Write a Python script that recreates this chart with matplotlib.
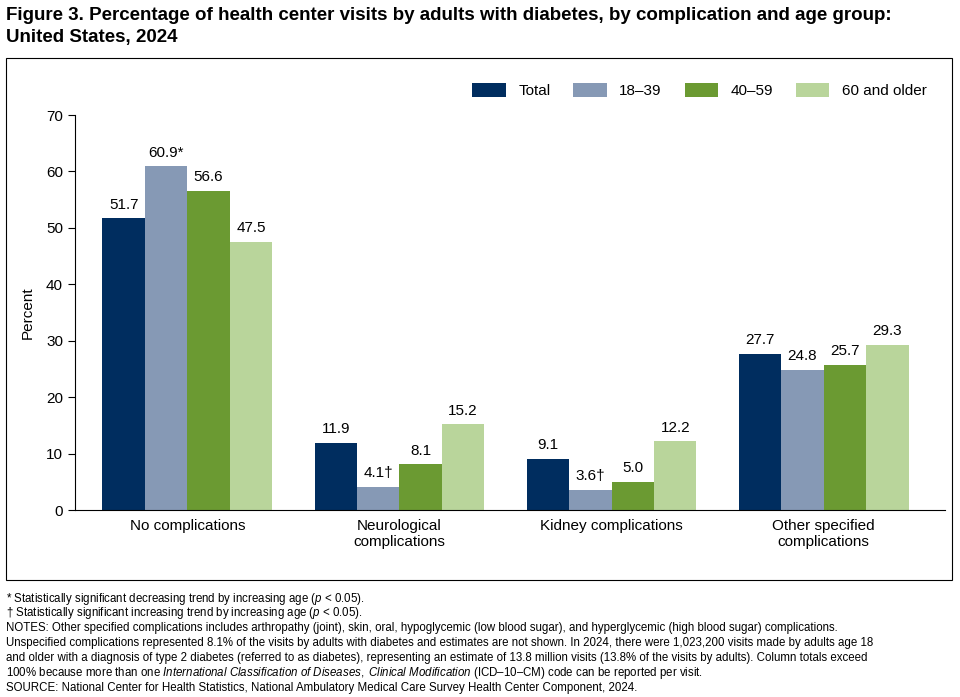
import matplotlib.pyplot as plt
import numpy as np
from matplotlib.patches import Rectangle

categories = ["No complications", "Neurological\ncomplications",
              "Kidney complications", "Other specified\ncomplications"]
series = ["Total", "18\u201339", "40\u201359", "60 and older"]
values = [
    [51.7, 11.9, 9.1, 27.7],
    [60.9, 4.1, 3.6, 24.8],
    [56.6, 8.1, 5.0, 25.7],
    [47.5, 15.2, 12.2, 29.3],
]
labels = [
    ["51.7", "11.9", "9.1", "27.7"],
    ["60.9*", "4.1\u2020", "3.6\u2020", "24.8"],
    ["56.6", "8.1", "5.0", "25.7"],
    ["47.5", "15.2", "12.2", "29.3"],
]
colors = ["#002d5f", "#8699b5", "#6b9a32", "#b9d59b"]

plt.rcParams["font.family"] = ["Liberation Sans", "DejaVu Sans"]
plt.rcParams["mathtext.fontset"] = "custom"
plt.rcParams["mathtext.rm"] = "Liberation Sans"
plt.rcParams["mathtext.it"] = "Liberation Sans:italic"
fig = plt.figure(figsize=(9.6, 6.97), dpi=100)
ax = fig.add_axes([0.078, 0.268, 0.906, 0.567])

x = np.arange(len(categories))
w = 0.2
for i, (vals, labs) in enumerate(zip(values, labels)):
    pos = x + (i - 1.5) * w
    ax.bar(pos, vals, width=w, color=colors[i], label=series[i])
    for p, v, t in zip(pos, vals, labs):
        ax.text(p, v + 1.2, t, ha="center", va="bottom", fontsize=11)

ax.set_xlim(-0.53, 3.57)
ax.set_ylim(0, 70)
ax.set_yticks(range(0, 71, 10))
ax.set_xticks(x)
ax.set_xticklabels(categories, fontsize=11)
ax.tick_params(axis="x", length=0, pad=6)
ax.tick_params(axis="y", labelsize=11, direction="out", length=5)
ax.set_ylabel("Percent", fontsize=11, labelpad=8)
for s in ["top", "right"]:
    ax.spines[s].set_visible(False)
ax.legend(loc="upper right", bbox_to_anchor=(0.995, 1.115), ncol=4, frameon=False,
          fontsize=11, handlelength=2.2, handleheight=1.0, columnspacing=1.5)

fig.patches.append(Rectangle((0.006, 0.168), 0.986, 0.749, transform=fig.transFigure,
                             fill=False, edgecolor="black", linewidth=0.8))

fig.text(0.006, 0.99, "Figure 3. Percentage of health center visits by adults with diabetes, by complication and age group:\nUnited States, 2024",
         ha="left", va="top", fontsize=13.5, fontweight="bold", linespacing=1.35)

notes = [
    r"* Statistically significant decreasing trend by increasing age ($\it{p}$ < 0.05).",
    "\u2020 Statistically significant increasing trend by increasing age ($\\it{p}$ < 0.05).",
    "NOTES: Other specified complications includes arthropathy (joint), skin, oral, hypoglycemic (low blood sugar), and hyperglycemic (high blood sugar) complications.",
    "Unspecified complications represented 8.1% of the visits by adults with diabetes and estimates are not shown. In 2024, there were 1,023,200 visits made by adults age 18",
    "and older with a diagnosis of type 2 diabetes (referred to as diabetes), representing an estimate of 13.8 million visits (13.8% of the visits by adults). Column totals exceed",
    "100% because more than one $\\it{International\\ Classification\\ of\\ Diseases,\\ Clinical\\ Modification}$ (ICD\u201310\u2013CM) code can be reported per visit.",
    "SOURCE: National Center for Health Statistics, National Ambulatory Medical Care Survey Health Center Component, 2024.",
]
y0 = 0.137
for n in notes:
    fig.text(0.006, y0, n, ha="left", va="baseline", fontsize=8.3)
    y0 -= 0.0215

fig.savefig("out.png", dpi=100)
